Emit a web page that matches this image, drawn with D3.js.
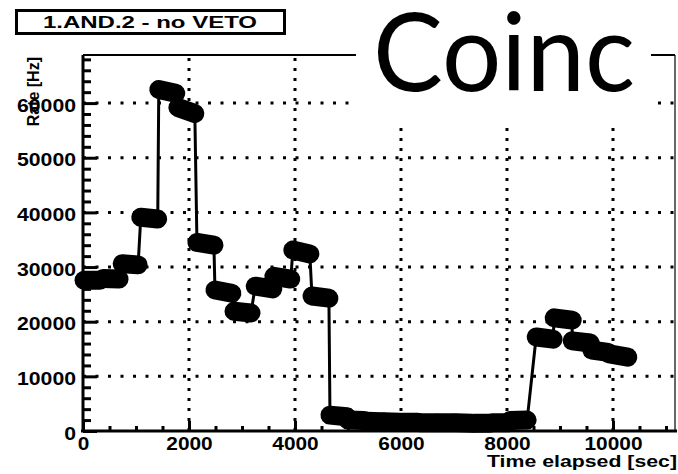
<!DOCTYPE html>
<html>
<head>
<meta charset="utf-8">
<script src="https://cdn.jsdelivr.net/npm/d3@7"></script>
<style>
  body { margin: 0; background: #fff; }
  svg { display: block; }
  text { font-family: "Liberation Sans", Arial, sans-serif; font-weight: bold; fill: #000; }
</style>
</head>
<body>
<svg id="chart" width="678" height="474"></svg>
<script>
// run start/stop times [sec] and coincidence rates [Hz]
// (consecutive pairs = start and stop of one run)
const times = [20, 320, 380, 680, 740, 1040, 1090, 1410, 1430, 1750, 1790, 2110,
  2150, 2470, 2490, 2810, 2850, 3170, 3250, 3580, 3600, 3920, 3960, 4280, 4320, 4640,
  4660, 4980, 5000, 5300, 5340, 5640, 5680, 5980, 6020, 6320, 6360, 6660, 6700, 7000,
  7040, 7340, 7380, 7680, 7720, 8020, 8060, 8380,
  8550, 8870, 8890, 9230, 9230, 9570, 9600, 9910, 9930, 10280];
const rates = [27600, 27600, 27900, 27800, 30600, 30400, 39100, 38800, 62500, 61800, 59200, 58100,
  34500, 34000, 25800, 25200, 21900, 21600, 26500, 26000, 28300, 27800, 33100, 32400, 24700, 24300,
  2900, 2600, 2000, 1900, 1800, 1700, 1700, 1600, 1600, 1600, 1500, 1500, 1500, 1500,
  1500, 1400, 1400, 1400, 1500, 1500, 1900, 2000,
  17200, 16800, 20700, 20300, 16500, 16100, 14800, 14400, 14100, 13500];

const xMajor = [0, 2000, 4000, 6000, 8000, 10000];
const yMajor = [0, 10000, 20000, 30000, 40000, 50000, 60000];
const xGrid = [2000, 4000, 6000, 8000, 10000];
const yGrid = [10000, 20000, 30000, 40000, 50000, 60000];

const data = times.map((t, i) => ({t: t, r: rates[i]}));
const runs = d3.range(0, data.length, 2).map(i => [data[i], data[i + 1]]);

const svg = d3.select("#chart");
const margin = {top: 55, right: 3, bottom: 43, left: 83};
const width = 678, height = 474;

const x = d3.scaleLinear().domain([0, 11170]).range([margin.left, width - margin.right]);
const y = d3.scaleLinear().domain([0, 68800]).range([height - margin.bottom, margin.top]);

// dotted grid
svg.append("g").selectAll("line").data(yGrid).join("line")
    .attr("x1", x(0)).attr("x2", x(11170))
    .attr("y1", d => y(d)).attr("y2", d => y(d))
    .attr("stroke", "#000").attr("stroke-width", 3).attr("stroke-dasharray", "3,9.5");
svg.append("g").selectAll("line").data(xGrid).join("line")
    .attr("x1", d => x(d)).attr("x2", d => x(d))
    .attr("y1", y(0)).attr("y2", y(68800))
    .attr("stroke", "#000").attr("stroke-width", 3).attr("stroke-dasharray", "3,7");

// frame top / right
svg.append("line").attr("x1", x(0)).attr("x2", x(11170)).attr("y1", y(68800)).attr("y2", y(68800))
    .attr("stroke", "#000").attr("stroke-width", 2);
svg.append("line").attr("x1", x(11170)).attr("x2", x(11170)).attr("y1", y(68800)).attr("y2", y(0))
    .attr("stroke", "#000").attr("stroke-width", 1.2);

// minor ticks
const xMinor = d3.range(500, 11170, 500).filter(v => v % 2000 !== 0);
const yMinor = d3.range(2000, 68800, 2000).filter(v => v % 10000 !== 0);
svg.append("g").attr("transform", `translate(0,${y(0)})`)
    .call(d3.axisBottom(x).tickValues(xMinor).tickSize(-5).tickSizeOuter(0).tickFormat(""))
    .call(g => g.select(".domain").remove())
    .call(g => g.selectAll(".tick line").attr("stroke-width", 3));
svg.append("g").attr("transform", `translate(${x(0)},0)`)
    .call(d3.axisLeft(y).tickValues(yMinor).tickSize(-8).tickSizeOuter(0).tickFormat(""))
    .call(g => g.select(".domain").remove())
    .call(g => g.selectAll(".tick line").attr("stroke-width", 3));

// major axes
const xAxis = g => g.attr("transform", `translate(0,${y(0)})`)
    .call(d3.axisBottom(x).tickValues(xMajor).tickSize(-10).tickSizeOuter(0).tickPadding(6).tickFormat(d3.format("d")))
    .call(g => g.select(".domain").attr("stroke-width", 3).attr("d", `M${x(0) - 2},0H${width - 1}`))
    .call(g => g.selectAll(".tick line").attr("stroke-width", 3))
    .call(g => g.selectAll(".tick text")
        .attr("font-size", 18).attr("font-family", null)
        .attr("textLength", d => String(d).length * 11.6)
        .attr("lengthAdjust", "spacingAndGlyphs"));
const yAxis = g => g.attr("transform", `translate(${x(0)},0)`)
    .call(d3.axisLeft(y).tickValues(yMajor).tickSize(-14).tickSizeOuter(0).tickPadding(7).tickFormat(d3.format("d")))
    .call(g => g.select(".domain").attr("stroke-width", 3).attr("d", `M0,${y(68800)}V${y(0) + 1}`))
    .call(g => g.selectAll(".tick line").attr("stroke-width", 3))
    .call(g => g.selectAll(".tick text")
        .attr("font-size", 18).attr("font-family", null).attr("dy", "0.45em")
        .attr("textLength", d => String(d).length * 11.8)
        .attr("lengthAdjust", "spacingAndGlyphs"));
svg.append("g").call(xAxis);
svg.append("g").call(yAxis);

// graph line + fat markers (each run drawn as one rounded blob)
svg.append("path").datum(data)
    .attr("fill", "none").attr("stroke", "#000").attr("stroke-width", 3)
    .attr("d", d3.line().x(d => x(d.t)).y(d => y(d.r)));
svg.append("g").selectAll("line").data(runs).join("line")
    .attr("x1", d => x(d[0].t)).attr("y1", d => y(d[0].r))
    .attr("x2", d => x(d[1].t)).attr("y2", d => y(d[1].r))
    .attr("stroke", "#000").attr("stroke-width", 19).attr("stroke-linecap", "round");

// axis titles
svg.append("text").attr("x", 677).attr("y", 467).attr("text-anchor", "end")
    .attr("font-size", 17).attr("textLength", 190).attr("lengthAdjust", "spacingAndGlyphs")
    .text("Time elapsed [sec]");
svg.append("text").attr("transform", "translate(39,57) rotate(-90)").attr("text-anchor", "end")
    .attr("font-size", 16).text("Rate [Hz]");

// title box
svg.append("rect").attr("x", 16.5).attr("y", 10.5).attr("width", 268).attr("height", 23)
    .attr("fill", "#fff").attr("stroke", "#000").attr("stroke-width", 3);
svg.append("text").attr("x", 150).attr("y", 28).attr("text-anchor", "middle")
    .attr("font-size", 16).attr("textLength", 214).attr("lengthAdjust", "spacingAndGlyphs")
    .text("1.AND.2 - no VETO");

// big label
svg.append("rect").attr("x", 356).attr("y", 0).attr("width", 295).attr("height", 125).attr("fill", "#fff");
svg.append("text").attr("x", 373).attr("y", 91)
    .style("font-family", "Lato, 'Open Sans', sans-serif").style("font-weight", "normal")
    .attr("font-size", 108).attr("textLength", 262).attr("lengthAdjust", "spacingAndGlyphs")
    .text("Coinc");
</script>
</body>
</html>
